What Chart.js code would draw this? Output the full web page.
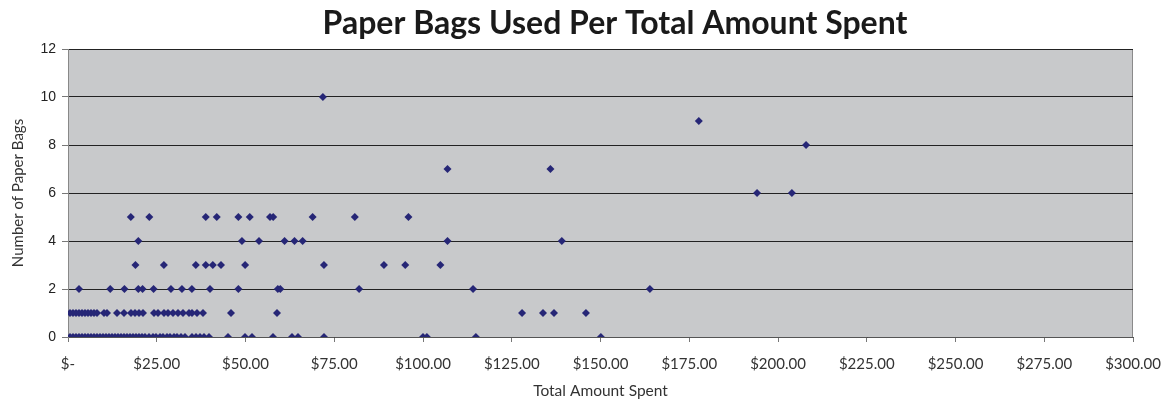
<!DOCTYPE html>
<html>
<head>
<meta charset="utf-8">
<script src="https://cdn.jsdelivr.net/npm/chart.js@4.4.1/dist/chart.umd.min.js"></script>
<style>
  html, body { margin: 0; padding: 0; background: #ffffff; }
  #graph { display: block; }
</style>
</head>
<body>
<canvas id="graph" width="1171" height="406"></canvas>
<script>
// ------------ data -----------------------

// amount spent ($) for each bag count
var spent_0 = [0.56, 1.41, 2.25, 3.10, 3.94, 4.79, 5.63, 6.48, 7.32, 8.17, 9.01, 9.86, 10.7, 11.55,
  12.39, 13.24, 14.08, 14.93, 15.77, 16.62, 17.46, 18.31, 19.15, 20.0, 20.85, 21.69, 22.82,
  23.94, 24.79, 25.92, 26.76, 27.89, 28.73, 29.86, 30.7, 31.83, 32.96, 34.93, 36.06, 37.18,
  38.31, 39.72, 45.07, 49.86, 51.83, 57.75, 63.1, 64.79, 72.11, 100.0, 101.1, 114.9, 150.1];
var spent_1 = [0.56, 1.41, 2.25, 3.10, 3.94, 4.79, 5.63, 6.48, 7.32, 8.17, 10.14, 10.99, 13.8,
  15.77, 17.75, 18.87, 20.0, 21.13, 24.23, 25.35, 27.04, 28.17, 29.58, 30.99, 32.39, 34.08,
  34.93, 36.34, 38.03, 45.92, 58.87, 127.9, 133.8, 136.9, 145.9];
var spent_2 = [3.1, 11.9, 15.9, 19.8, 21.0, 24.1, 29.0, 32.1, 34.9, 40.0, 48.0, 59.1, 59.8, 82.0, 114.1, 163.9];
var spent_3 = [19.0, 27.0, 36.0, 38.8, 40.8, 43.1, 49.9, 72.1, 89.0, 95.0, 104.9];
var spent_4 = [19.8, 49.0, 53.8, 61.0, 63.8, 66.1, 106.9, 139.1];
var spent_5 = [17.7, 22.9, 38.8, 41.9, 48.0, 51.2, 56.9, 57.8, 68.9, 80.8, 95.9];
var spent_6 = [194.1, 203.9];
var spent_7 = [106.9, 135.9];
var spent_8 = [207.9];
var spent_9 = [177.7];
var spent_10 = [71.8];

var bag_counts = [0, 1, 2, 3, 4, 5, 6, 7, 8, 9, 10];
var spent_by_bags = [spent_0, spent_1, spent_2, spent_3, spent_4, spent_5, spent_6, spent_7, spent_8, spent_9, spent_10];

var x_ticks = [0, 25, 50, 75, 100, 125, 150, 175, 200, 225, 250, 275, 300];
var y_ticks = [0, 2, 4, 6, 8, 10, 12];

var chart_title = "Paper Bags Used Per Total Amount Spent";

// ------------ points ---------------------

var points = [];
for (var b = 0; b < bag_counts.length; b++) {
  for (var i = 0; i < spent_by_bags[b].length; i++) {
    points.push({ x: spent_by_bags[b][i], y: bag_counts[b] });
  }
}

// ------------ plot background + title ----

var plotBg = {
  id: "plotBg",
  beforeDraw: function (chart) {
    var a = chart.chartArea;
    var c = chart.ctx;
    c.save();
    c.fillStyle = "#c8c9cb";
    c.fillRect(a.left, a.top, a.right - a.left, a.bottom - a.top);
    c.strokeStyle = "#8a8a8a";
    c.lineWidth = 1;
    c.strokeRect(a.left + 0.5, a.top + 0.5, a.right - a.left - 1, a.bottom - a.top);
    c.restore();
  },
  afterDraw: function (chart) {
    var c = chart.ctx;
    c.save();
    c.fillStyle = "#1a1a1a";
    c.font = "bold 32px Lato";
    c.textAlign = "center";
    c.textBaseline = "alphabetic";
    c.fillText(chart_title, 615, 34);
    c.restore();
  },
};

// ------------ chart ----------------------

const ctx = document.getElementById("graph");

const myChart = new Chart(ctx, {
  type: "scatter",
  data: {
    datasets: [
      {
        label: "Paper Bags",
        data: points,
        pointStyle: "rectRot",
        pointRadius: 4,
        pointBorderWidth: 0,
        backgroundColor: "#262676",
        borderColor: "#262676",
      },
    ],
  },
  options: {
    responsive: false,
    animation: false,
    layout: { padding: { left: 9, right: 38, top: 49, bottom: 0 } },
    plugins: {
      legend: { display: false },
      tooltip: { enabled: false },
      title: { display: false },
    },
    scales: {
      x: {
        type: "linear",
        min: 0,
        max: 300,
        afterBuildTicks: function (s) {
          s.ticks = x_ticks.map(function (v) { return { value: v }; });
        },
        afterFit: function (s) {
          s.height = 69;
          s.paddingLeft = 0;
          s.paddingRight = 0;
        },
        ticks: {
          color: "#333333",
          font: { family: "Lato", size: 15 },
          padding: 13,
          maxRotation: 0,
          autoSkip: false,
          callback: function (v) { return v === 0 ? "$-" : "$" + v.toFixed(2); },
        },
        grid: { drawOnChartArea: false, drawTicks: true, tickLength: 5, color: "#777777" },
        border: { display: true, color: "#555555" },
        title: {
          display: true,
          text: "Total Amount Spent",
          color: "#333333",
          font: { family: "Lato", size: 15.5 },
          padding: { top: 4, bottom: 6 },
        },
      },
      y: {
        min: 0,
        max: 12,
        afterBuildTicks: function (s) {
          s.ticks = y_ticks.map(function (v) { return { value: v }; });
        },
        afterFit: function (s) {
          s.width = 59;
          s.paddingTop = 0;
          s.paddingBottom = 0;
        },
        ticks: {
          color: "#222222",
          font: { family: "Liberation Sans", size: 14 },
          padding: 6,
        },
        grid: { color: "#222222", lineWidth: 1, tickLength: 6, tickColor: "#777777" },
        border: { display: true, color: "#888888" },
        title: {
          display: true,
          text: "Number of Paper Bags",
          color: "#333333",
          font: { family: "Lato", size: 15 },
          padding: { top: 0, bottom: 0 },
        },
      },
    },
  },
  plugins: [plotBg],
});
</script>
</body>
</html>
